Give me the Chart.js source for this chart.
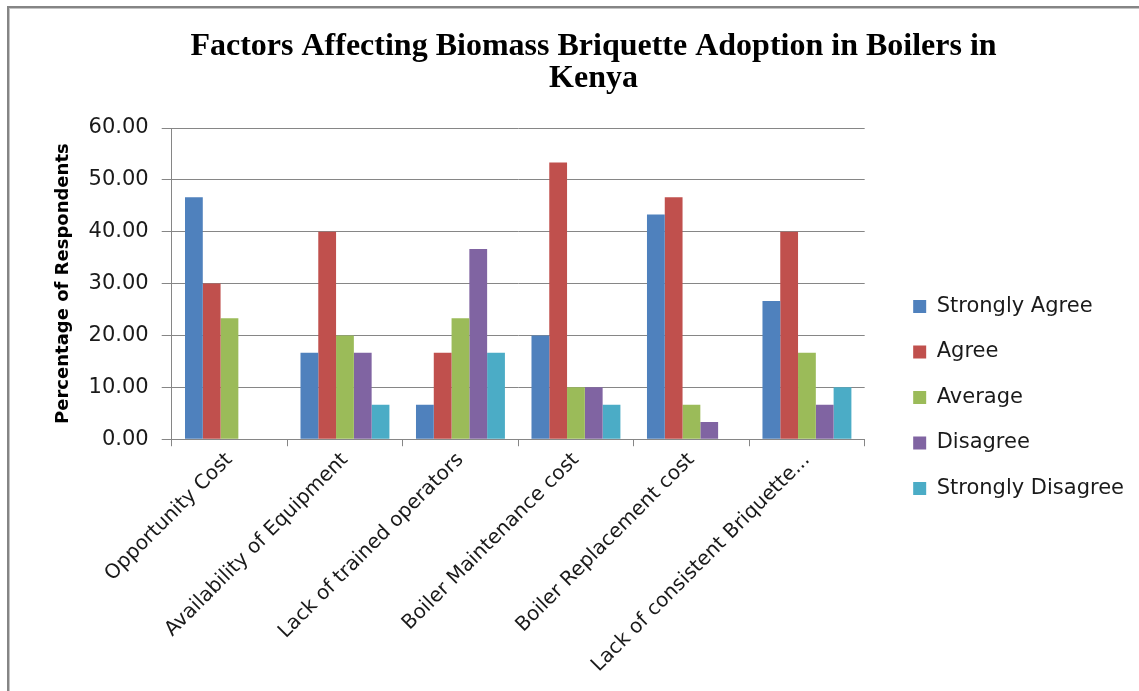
<!DOCTYPE html>
<html>
<head>
<meta charset="utf-8">
<script src="https://cdn.jsdelivr.net/npm/chart.js@4/dist/chart.umd.min.js"></script>
<style>
  html, body {
    margin: 0;
    padding: 0;
    background: #fff;
    overflow: hidden;
  }

  .frame {
    position: absolute;
    left: 7px;
    top: 6px;
    width: 1300px;
    height: 900px;
    border-left: 2px solid #858585;
    border-top: 2px solid #858585;
    box-shadow: inset 1px 1px 0 #c4c4c4;
  }

  .chart-box {
    position: absolute;
    left: 0;
    top: 0;
    width: 1139px;
    height: 691px;
  }
</style>
</head>
<body>
<div class="frame"></div>
<div class="chart-box"><canvas id="chart"></canvas></div>
<script>
  const categories = [
    "Opportunity Cost",
    "Availability of Equipment",
    "Lack of trained operators",
    "Boiler Maintenance cost",
    "Boiler Replacement cost",
    "Lack of consistent Briquette...",
  ];

  const stronglyAgree = [46.67, 16.67, 6.67, 20.00, 43.33, 26.67];
  const agree = [30.00, 40.00, 16.67, 53.33, 46.67, 40.00];
  const average = [23.33, 20.00, 23.33, 10.00, 6.67, 16.67];
  const disagree = [0, 16.67, 36.67, 10.00, 3.33, 6.67];
  const stronglyDisagree = [0, 6.67, 16.67, 6.67, 0, 10.00];

  const yTicks = [0, 10, 20, 30, 40, 50, 60];

  const series = [
    { label: "Strongly Agree", data: stronglyAgree, color: "#4f81bd" },
    { label: "Agree", data: agree, color: "#c0504d" },
    { label: "Average", data: average, color: "#9bbb59" },
    { label: "Disagree", data: disagree, color: "#8064a2" },
    { label: "Strongly Disagree", data: stronglyDisagree, color: "#4bacc6" },
  ];

  const textFont = "'DejaVu Sans', 'Open Sans', sans-serif";
  const textColor = "#1a1a1a";
  const gridColor = "#868686";

  // room between the plot and the legend, and the legend column pushed down
  const legendGap = 24;
  const legendDrop = 51;

  const legendOffset = {
    id: "legendOffset",
    beforeLayout(chart) {
      const legend = chart.legend;
      if (legend && !legend._gapFit) {
        const fit = legend.fit;
        legend.fit = function () {
          fit.call(this);
          this.width += legendGap;
        };
        legend._gapFit = true;
      }
    },
    afterLayout(chart) {
      const legend = chart.legend;
      if (!legend) return;
      legend.left += legendGap;
      legend.top += legendDrop;
      legend.bottom += legendDrop;
    },
  };

  new Chart(document.getElementById("chart"), {
    type: "bar",
    data: {
      labels: categories,
      datasets: series.map(s => ({
        label: s.label,
        data: s.data,
        backgroundColor: s.color,
        borderWidth: 0,
        barPercentage: 1.0,
        categoryPercentage: 0.77,
      })),
    },
    options: {
      responsive: true,
      maintainAspectRatio: false,
      animation: false,
      layout: {
        padding: { top: 14, left: 53, right: 5, bottom: 12 },
      },
      plugins: {
        title: {
          display: true,
          text: ["Factors Affecting Biomass Briquette Adoption in Boilers in", "Kenya"],
          color: "#000",
          font: { family: "'Liberation Serif', 'Times New Roman', serif", size: 32, weight: "bold", lineHeight: 1.0 },
          padding: { top: 17, bottom: 33 },
        },
        legend: {
          position: "right",
          labels: {
            color: textColor,
            font: { family: textFont, size: 21 },
            boxWidth: 13,
            boxHeight: 13,
            padding: 24.5,
          },
        },
        tooltip: { enabled: false },
      },
      scales: {
        x: {
          grid: {
            display: true,
            drawOnChartArea: false,
            drawTicks: true,
            tickLength: 7,
            color: gridColor,
          },
          border: { display: true, color: gridColor },
          ticks: {
            color: textColor,
            font: { family: textFont, size: 20 },
            minRotation: 45,
            maxRotation: 45,
            autoSkip: false,
            padding: 2,
          },
        },
        y: {
          min: 0,
          max: 60,
          afterBuildTicks: scale => {
            scale.ticks = yTicks.map(v => ({ value: v }));
          },
          grid: {
            color: gridColor,
            tickLength: 10,
          },
          border: { display: true, color: gridColor },
          ticks: {
            color: textColor,
            font: { family: textFont, size: 21 },
            padding: 13,
            callback: v => Number(v).toFixed(2),
          },
          title: {
            display: true,
            text: "Percentage of Respondents",
            color: "#000",
            font: { family: textFont, size: 18, weight: "bold" },
            padding: { top: 0, bottom: 1 },
          },
        },
      },
    },
    plugins: [legendOffset],
  });
</script>
</body>
</html>
